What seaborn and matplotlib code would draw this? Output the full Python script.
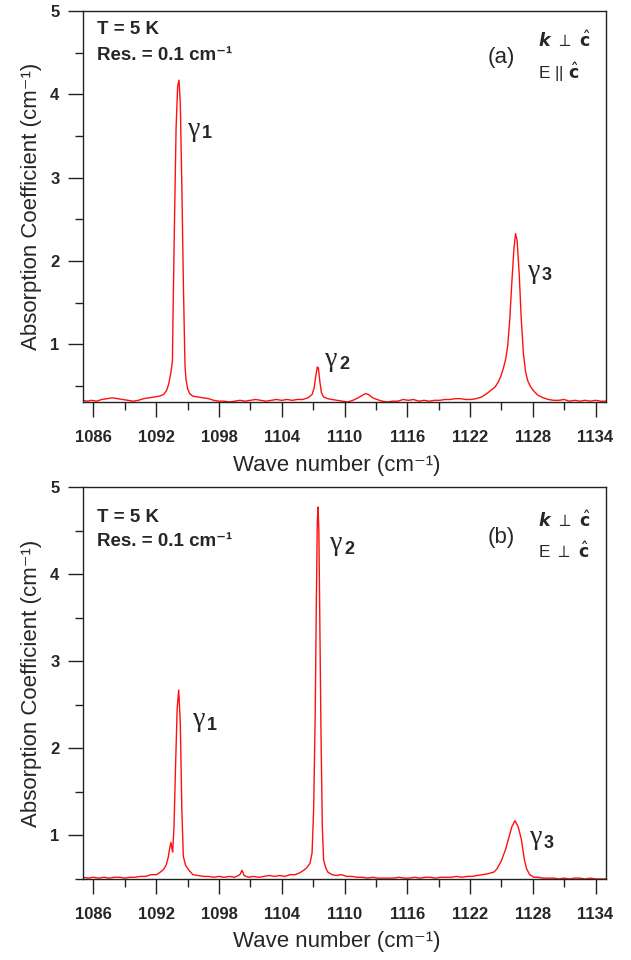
import numpy as np
import pandas as pd
import matplotlib
matplotlib.use("Agg")
import matplotlib.pyplot as plt
import seaborn as sns
from matplotlib.ticker import MultipleLocator

# ---------------- data ----------------
a_wn = [1085.0, 1085.4, 1085.8, 1086.3, 1086.8, 1087.3, 1087.8, 1088.3, 1088.8, 1089.3,
        1089.8, 1090.3, 1090.8, 1091.3, 1091.8, 1092.3, 1092.7, 1093.0, 1093.2, 1093.4,
        1093.55, 1093.6, 1093.75, 1093.9, 1094.05, 1094.18, 1094.3, 1094.45, 1094.6, 1094.75,
        1094.85, 1095.0, 1095.2, 1095.5, 1096.0, 1096.5, 1097.0, 1097.5, 1098.0, 1098.5,
        1099.0, 1099.5, 1100.0, 1100.5, 1101.0, 1101.5, 1102.0, 1102.5, 1103.0, 1103.5,
        1104.0, 1104.5, 1105.0, 1105.5, 1106.0, 1106.5, 1106.9, 1107.1, 1107.25, 1107.4,
        1107.5, 1107.65, 1107.8, 1108.0, 1108.4, 1108.8, 1109.3, 1109.8, 1110.3, 1110.8,
        1111.3, 1111.7, 1112.0, 1112.3, 1112.7, 1113.1, 1113.6, 1114.1, 1114.6, 1115.1,
        1115.6, 1116.1, 1116.6, 1117.1, 1117.6, 1118.1, 1118.6, 1119.1, 1119.6, 1120.1,
        1120.6, 1121.1, 1121.6, 1122.1, 1122.6, 1123.1, 1123.6, 1124.0, 1124.4, 1124.7,
        1124.95, 1125.2, 1125.4, 1125.6, 1125.8, 1126.0, 1126.2, 1126.35, 1126.5, 1126.7,
        1126.9, 1127.1, 1127.3, 1127.5, 1127.8, 1128.1, 1128.5, 1129.0, 1129.5, 1130.0,
        1130.5, 1131.0, 1131.5, 1132.0, 1132.5, 1133.0, 1133.5, 1134.0, 1134.5, 1135.0]
a_abs = [0.33, 0.32, 0.33, 0.32, 0.34, 0.35, 0.36, 0.35, 0.34, 0.33,
         0.32, 0.33, 0.35, 0.36, 0.37, 0.38, 0.40, 0.45, 0.53, 0.66,
         0.80, 1.30, 2.50, 3.60, 4.10, 4.17, 3.90, 2.90, 1.70, 0.75,
         0.58, 0.47, 0.41, 0.38, 0.37, 0.36, 0.35, 0.33, 0.32, 0.32,
         0.31, 0.32, 0.33, 0.32, 0.33, 0.34, 0.33, 0.32, 0.33, 0.34,
         0.33, 0.34, 0.33, 0.34, 0.34, 0.36, 0.40, 0.48, 0.62, 0.73,
         0.72, 0.55, 0.42, 0.37, 0.35, 0.34, 0.33, 0.32, 0.31, 0.33,
         0.36, 0.39, 0.41, 0.40, 0.36, 0.34, 0.32, 0.31, 0.32, 0.32,
         0.34, 0.33, 0.34, 0.32, 0.33, 0.32, 0.33, 0.33, 0.34, 0.34,
         0.35, 0.35, 0.34, 0.34, 0.35, 0.37, 0.41, 0.45, 0.49, 0.55,
         0.62, 0.72, 0.82, 0.98, 1.30, 1.75, 2.15, 2.33, 2.25, 1.85,
         1.30, 0.90, 0.68, 0.57, 0.49, 0.44, 0.39, 0.36, 0.34, 0.33,
         0.33, 0.34, 0.32, 0.33, 0.32, 0.33, 0.32, 0.33, 0.32, 0.32]

b_wn = [1085.0, 1085.5, 1086.0, 1086.5, 1087.0, 1087.5, 1088.0, 1088.5, 1089.0, 1089.5,
        1090.0, 1090.5, 1091.0, 1091.5, 1092.05, 1092.4, 1092.7, 1092.95, 1093.15, 1093.3,
        1093.41, 1093.5, 1093.57, 1093.7, 1093.85, 1094.0, 1094.15, 1094.3, 1094.45, 1094.59,
        1094.8, 1095.07, 1095.5, 1096.0, 1096.5, 1097.0, 1097.5, 1098.0, 1098.5, 1099.0,
        1099.5, 1100.0, 1100.2, 1100.4, 1100.8, 1101.3, 1101.8, 1102.3, 1102.8, 1103.3,
        1103.8, 1104.3, 1104.8, 1105.3, 1105.7, 1106.1, 1106.4, 1106.7, 1106.9, 1107.05,
        1107.2, 1107.3, 1107.4, 1107.47, 1107.55, 1107.65, 1107.75, 1107.88, 1108.0, 1108.2,
        1108.4, 1108.8, 1109.2, 1109.7, 1110.2, 1110.7, 1111.2, 1111.7, 1112.2, 1112.7,
        1113.2, 1113.7, 1114.2, 1114.7, 1115.2, 1115.7, 1116.2, 1116.7, 1117.2, 1117.7,
        1118.2, 1118.7, 1119.2, 1119.7, 1120.2, 1120.7, 1121.2, 1121.7, 1122.2, 1122.7,
        1123.2, 1123.7, 1124.0, 1124.3, 1124.6, 1125.0, 1125.4, 1125.7, 1126.0, 1126.3,
        1126.6, 1126.9, 1127.2, 1127.4, 1127.7, 1128.1, 1128.5, 1129.0, 1129.5, 1130.0,
        1130.5, 1131.0, 1131.5, 1132.0, 1132.5, 1133.0, 1133.5, 1134.0, 1134.5, 1135.0]
b_abs = [0.52, 0.51, 0.52, 0.51, 0.52, 0.51, 0.52, 0.52, 0.51, 0.52,
         0.52, 0.53, 0.53, 0.55, 0.55, 0.58, 0.61, 0.66, 0.75, 0.86,
         0.92, 0.85, 0.81, 1.10, 1.80, 2.45, 2.67, 2.30, 1.30, 0.76,
         0.66, 0.61, 0.55, 0.54, 0.53, 0.53, 0.52, 0.53, 0.52, 0.53,
         0.52, 0.55, 0.60, 0.54, 0.52, 0.53, 0.52, 0.53, 0.54, 0.53,
         0.54, 0.53, 0.55, 0.55, 0.57, 0.60, 0.63, 0.68, 0.80, 1.30,
         2.40, 3.60, 4.60, 4.77, 4.50, 3.40, 2.20, 1.10, 0.72, 0.63,
         0.58, 0.55, 0.54, 0.55, 0.53, 0.53, 0.52, 0.52, 0.51, 0.52,
         0.51, 0.51, 0.51, 0.51, 0.52, 0.51, 0.51, 0.52, 0.51, 0.52,
         0.52, 0.51, 0.52, 0.52, 0.52, 0.53, 0.52, 0.53, 0.53, 0.54,
         0.55, 0.56, 0.57, 0.58, 0.62, 0.71, 0.84, 0.97, 1.10, 1.17,
         1.10, 0.96, 0.72, 0.62, 0.55, 0.52, 0.52, 0.51, 0.51, 0.51,
         0.50, 0.51, 0.50, 0.51, 0.51, 0.50, 0.51, 0.50, 0.50, 0.50]

x_ticks = [1086, 1092, 1098, 1104, 1110, 1116, 1122, 1128, 1134]
y_ticks = [1, 2, 3, 4, 5]
panel_tags = ["(a)", "(b)"]
polar_k = r"$\boldsymbol{k}\ \perp\ \hat{\mathbf{c}}$"
polar_E = [r"E || $\hat{\mathbf{c}}$", r"E $\perp$ $\hat{\mathbf{c}}$"]
peak_subs = ["1", "2", "3"]

# ---------------- style ----------------
sns.set_style("ticks")
plt.rcParams["font.family"] = ["Liberation Sans", "DejaVu Sans"]
plt.rcParams["axes.linewidth"] = 1.0

W, H = 631, 960
fig = plt.figure(figsize=(W / 100, H / 100), dpi=100)

def px_axes(left, top, right, bottom):
    return fig.add_axes([left / W, 1 - bottom / H, (right - left) / W, (bottom - top) / H])

ax_a = px_axes(83, 11, 606, 402)
ax_b = px_axes(83, 487, 606, 879)

df_a = pd.DataFrame({"wn": a_wn, "abs": a_abs})
df_b = pd.DataFrame({"wn": b_wn, "abs": b_abs})

for ax, df, ylo in [(ax_a, df_a, 0.31), (ax_b, df_b, 0.50)]:
    sns.lineplot(data=df, x="wn", y="abs", ax=ax, color="#ff1010", linewidth=1.0,
                 estimator=None, sort=False)
    ax.set_xlim(1085, 1135)
    ax.set_ylim(ylo, 5)
    ax.set_xticks(x_ticks)
    ax.set_yticks(y_ticks)
    ax.xaxis.set_minor_locator(MultipleLocator(3))
    ax.yaxis.set_minor_locator(MultipleLocator(0.5))
    ax.tick_params(axis="both", which="major", length=11, width=1.0, color="#222222",
                   labelsize=12, direction="out")
    ax.tick_params(axis="both", which="minor", length=6, width=1.0, color="#222222",
                   direction="out")
    ax.tick_params(axis="x", which="major", pad=9)
    ax.tick_params(axis="y", which="major", pad=6)
    for lab in ax.get_xticklabels() + ax.get_yticklabels():
        lab.set_fontweight("bold")
    for s in ax.spines.values():
        s.set_color("#222222")
        s.set_linewidth(1.0)
    ax.set_xlabel("")
    ax.set_ylabel("")

def ftext(x, y, s, **kw):
    kw.setdefault("va", "center")
    fig.text(x / W, 1 - y / H, s, **kw)

# panel texts
for i, (ylab_c, xlab_y) in enumerate([(206, 466), (683, 942)]):
    t1 = 30 if i == 0 else 517
    t2 = 56 if i == 0 else 541
    ftext(97, t1, "T = 5 K", fontsize=13.5, fontweight="bold")
    ftext(97, t2, "Res. = 0.1 cm\u207b\u00b9", fontsize=13.5, fontweight="bold")
    ftext(501, 57 if i == 0 else 538, panel_tags[i], fontsize=16, ha="center")
    ftext(538, 40 if i == 0 else 520, polar_k, fontsize=12.5)
    ftext(538, 72 if i == 0 else 551, polar_E[i], fontsize=12.5)
    ftext(32, ylab_c, "Absorption Coefficient (cm\u207b\u00b9)", fontsize=16,
          rotation=90, ha="center")
    ftext(337, xlab_y, "Wave number (cm\u207b\u00b9)", fontsize=16, ha="center")

# peak labels: upright serif gamma + bold sans subscript
def gamma_label(x, y, sub):
    ftext(x, y, "\u03b3", fontsize=20, family=["Liberation Serif", "DejaVu Serif"], ha="left")
    ftext(x + 14, y + 5, sub, fontsize=13, fontweight="bold", ha="left")

gamma_label(188, 129, peak_subs[0])
gamma_label(325, 360, peak_subs[1])
gamma_label(528, 271, peak_subs[2])
gamma_label(193, 720, peak_subs[0])
gamma_label(330, 544, peak_subs[1])
gamma_label(530, 838, peak_subs[2])

fig.savefig("out.png", dpi=100)
